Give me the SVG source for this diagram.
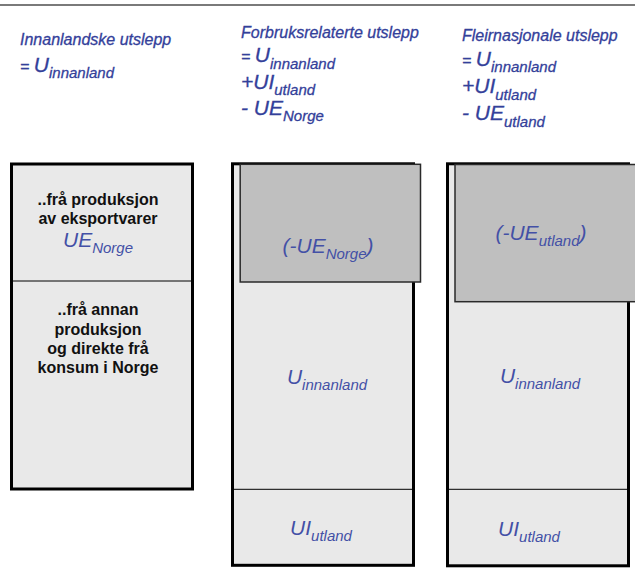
<svg xmlns="http://www.w3.org/2000/svg" width="635" height="574" viewBox="0 0 635 574">
<style>
.hd{font-family:"Liberation Sans",Arial,sans-serif;font-style:italic;fill:#33409a;stroke:#33409a;stroke-width:0.3;font-size:16px}
.big{font-size:21px}
.sub{font-size:15px}
.bl{font-family:"Liberation Sans",Arial,sans-serif;font-weight:bold;fill:#111;font-size:16px;text-anchor:middle}
.lb{font-family:"Liberation Sans",Arial,sans-serif;font-style:italic;fill:#4350a6;font-size:21px;text-anchor:middle}
.box{fill:#e9e9e9;stroke:#000;stroke-width:3}
.neg{fill:#bfbfbf;stroke:#2a2a2a;stroke-width:1.5}
.div{stroke:#000;stroke-width:1;fill:none}
</style>
<line x1="0" y1="5" x2="635" y2="5" stroke="#7a7a7a" stroke-width="2"/>

<g id="header-innanlandske">
<text class="hd" x="20" y="45">Innanlandske utslepp</text>
<text class="hd" x="20" y="72">= <tspan class="big">U</tspan><tspan class="sub" dy="6">innanland</tspan></text>
</g>
<g id="header-forbruks">
<text class="hd" x="241" y="37.5">Forbruksrelaterte utslepp</text>
<text class="hd" x="241" y="62">= <tspan class="big">U</tspan><tspan class="sub" dy="6.5">innanland</tspan></text>
<text class="hd" x="241" y="88.5"><tspan class="big">+UI</tspan><tspan class="sub" dy="6.5">utland</tspan></text>
<text class="hd" x="241" y="114.5"><tspan class="big">- UE</tspan><tspan class="sub" dy="6.5">Norge</tspan></text>
</g>
<g id="header-fleirnasjonale">
<text class="hd" x="462" y="40.5">Fleirnasjonale utslepp</text>
<text class="hd" x="462" y="65.5">= <tspan class="big">U</tspan><tspan class="sub" dy="6.5">innanland</tspan></text>
<text class="hd" x="462" y="93"><tspan class="big">+UI</tspan><tspan class="sub" dy="6.5">utland</tspan></text>
<text class="hd" x="462" y="120"><tspan class="big">- UE</tspan><tspan class="sub" dy="6.5">utland</tspan></text>
</g>

<g id="box-innanlandske">
<rect class="box" x="11.5" y="164" width="181" height="325"/>
<line class="div" x1="13" y1="281" x2="191" y2="281"/>
<text class="bl" x="98" y="205">..frå produksjon</text>
<text class="bl" x="98" y="224">av eksportvarer</text>
<text class="lb" x="98" y="247">UE<tspan class="sub" dy="6">Norge</tspan></text>
<text class="bl" x="98" y="315">..frå annan</text>
<text class="bl" x="98" y="334.5">produksjon</text>
<text class="bl" x="98" y="354">og direkte frå</text>
<text class="bl" x="98" y="373">konsum i Norge</text>
</g>

<g id="box-forbruks">
<rect class="box" x="232.5" y="163.8" width="181" height="401.5"/>
<line class="div" x1="234" y1="489.3" x2="412" y2="489.3"/>
<rect class="neg" x="240.2" y="164.3" width="180.3" height="117.7"/>
<text class="lb" x="328" y="253">(-UE<tspan class="sub" dy="6">Norge</tspan><tspan dy="-6">)</tspan></text>
<text class="lb" x="327" y="384">U<tspan class="sub" dy="6">innanland</tspan></text>
<text class="lb" x="321" y="535">UI<tspan class="sub" dy="6">utland</tspan></text>
</g>

<g id="box-fleirnasjonale">
<rect class="box" x="447.5" y="163.8" width="181" height="402"/>
<line class="div" x1="449" y1="489.3" x2="627" y2="489.3"/>
<rect class="neg" x="455" y="164.5" width="185" height="137.2"/>
<text class="lb" x="541" y="240">(-UE<tspan class="sub" dy="6">utland</tspan><tspan dy="-6">)</tspan></text>
<text class="lb" x="540" y="383">U<tspan class="sub" dy="6">innanland</tspan></text>
<text class="lb" x="529" y="536">UI<tspan class="sub" dy="6">utland</tspan></text>
</g>
</svg>
